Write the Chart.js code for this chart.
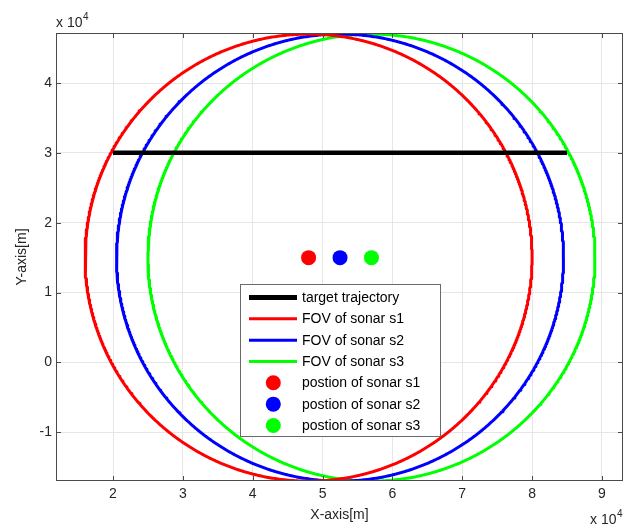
<!DOCTYPE html>
<html>
<head>
<meta charset="utf-8">
<script src="https://cdn.jsdelivr.net/npm/chart.js@4"></script>
<style>
html,body{margin:0;padding:0;background:#fff;}
#wrap{width:624px;height:528px;position:relative;}
</style>
</head>
<body>
<div id="wrap"><canvas id="c" width="624" height="528"></canvas></div>
<script>
// ---- data ----
const trajX = [20000, 85000];
const trajY = [30000, 30000];
const sonarNames = ['s1', 's2', 's3'];
const sonarX = [48000, 52500, 57000];
const sonarY = [15000, 15000, 15000];
const fovRadius = [32000, 32000, 32000];
const sonarColors = ['#ff0000', '#0000ff', '#00ff00'];
const xTicks = [20000, 30000, 40000, 50000, 60000, 70000, 80000, 90000];
const yTicks = [-10000, 0, 10000, 20000, 30000, 40000];
const xRange = [11840, 93010];
const yRange = [-16980, 47160];

function circlePoints(cx, cy, r) {
  const pts = [];
  const n = 1000;
  for (let i = 0; i <= n; i++) {
    const a = i / n * 2 * Math.PI;
    pts.push({x: cx + r * Math.cos(a), y: cy + r * Math.sin(a)});
  }
  return pts;
}

const datasets = [];
datasets.push({
  label: 'target trajectory',
  data: trajX.map((x, i) => ({x: x, y: trajY[i]})),
  showLine: true, borderColor: '#000', borderWidth: 4.5, pointRadius: 0, legendKind: 'line'
});
sonarNames.forEach((s, i) => {
  datasets.push({
    label: 'FOV of sonar ' + s,
    data: circlePoints(sonarX[i], sonarY[i], fovRadius[i]),
    showLine: true, borderColor: sonarColors[i], borderWidth: 3, pointRadius: 0,
    borderJoinStyle: 'round', legendKind: 'line'
  });
});
sonarNames.forEach((s, i) => {
  datasets.push({
    label: 'postion of sonar ' + s,
    data: [{x: sonarX[i], y: sonarY[i]}],
    showLine: false, backgroundColor: sonarColors[i], borderColor: sonarColors[i],
    borderWidth: 0, pointRadius: 7.5, legendKind: 'point'
  });
});

const FONT = '"Liberation Sans", Arial, sans-serif';
const TXT = '#262626';
const AX = '#4a4a4a';

const decor = {
  id: 'decor',
  afterDraw(chart) {
    const ctx = chart.ctx;
    const a = chart.chartArea;
    const xs = chart.scales.x, ys = chart.scales.y;
    ctx.save();
    // box
    ctx.strokeStyle = AX;
    ctx.lineWidth = 1;
    ctx.strokeRect(Math.round(a.left) + 0.5, Math.round(a.top) + 0.5,
                   Math.round(a.right - a.left) - 1, Math.round(a.bottom - a.top) - 1);
    // inner ticks
    const tl = 5;
    ctx.beginPath();
    xTicks.forEach(v => {
      const px = Math.round(xs.getPixelForValue(v)) + 0.5;
      ctx.moveTo(px, a.bottom); ctx.lineTo(px, a.bottom - tl);
      ctx.moveTo(px, a.top); ctx.lineTo(px, a.top + tl);
    });
    yTicks.forEach(v => {
      const py = Math.round(ys.getPixelForValue(v)) + 0.5;
      ctx.moveTo(a.left, py); ctx.lineTo(a.left + tl, py);
      ctx.moveTo(a.right, py); ctx.lineTo(a.right - tl, py);
    });
    ctx.stroke();

    // exponent labels
    ctx.fillStyle = TXT;
    ctx.textBaseline = 'alphabetic';
    ctx.textAlign = 'left';
    ctx.font = '14px ' + FONT;
    ctx.fillText('x 10', 56, 27);
    let w = ctx.measureText('x 10').width;
    ctx.font = '10px ' + FONT;
    ctx.fillText('4', 56 + w + 0.5, 20);
    ctx.font = '14px ' + FONT;
    ctx.fillText('x 10', 590, 524);
    w = ctx.measureText('x 10').width;
    ctx.font = '10px ' + FONT;
    ctx.fillText('4', 590 + w + 0.5, 517);

    // legend
    const L = 240, T = 284, R = 441, B = 437;
    ctx.fillStyle = '#fff';
    ctx.fillRect(L, T, R - L, B - T);
    ctx.strokeStyle = '#6a6a6a';
    ctx.lineWidth = 1;
    ctx.strokeRect(L + 0.5, T + 0.5, R - L - 1, B - T - 1);
    const y0 = 297.5, dy = 21.33;
    ctx.font = '14px ' + FONT;
    ctx.textBaseline = 'middle';
    chart.data.datasets.forEach((ds, i) => {
      const y = y0 + i * dy;
      if (ds.legendKind === 'line') {
        ctx.strokeStyle = ds.borderColor;
        ctx.lineWidth = i === 0 ? 5 : 3;
        ctx.beginPath();
        ctx.moveTo(249, y); ctx.lineTo(297, y);
        ctx.stroke();
      } else {
        ctx.fillStyle = ds.backgroundColor;
        ctx.beginPath();
        ctx.arc(273.3, y, 7.5, 0, 2 * Math.PI);
        ctx.fill();
      }
      ctx.fillStyle = '#000';
      ctx.fillText(ds.label, 302, y + 0.5);
    });
    ctx.restore();
  }
};

new Chart(document.getElementById('c'), {
  type: 'scatter',
  data: {datasets: datasets},
  plugins: [decor],
  options: {
    responsive: false,
    animation: false,
    layout: {autoPadding: false, padding: {top: 33, right: 1, left: 0, bottom: 0}},
    plugins: {legend: {display: false}, tooltip: {enabled: false}},
    scales: {
      x: {
        type: 'linear', min: xRange[0], max: xRange[1],
        afterBuildTicks: s => { s.ticks = xTicks.map(v => ({value: v})); },
        afterFit: s => { s.height = 47; s.paddingLeft = 0; s.paddingRight = 0; },
        ticks: {callback: v => String(v / 10000), color: TXT, font: {size: 14, family: FONT}, padding: 5, maxRotation: 0, autoSkip: false},
        grid: {color: '#e6e6e6', drawTicks: false, lineWidth: 1},
        border: {display: false},
        title: {display: true, text: 'X-axis[m]', color: TXT, font: {size: 14, family: FONT}, padding: {top: 0, bottom: 4}}
      },
      y: {
        type: 'linear', min: yRange[0], max: yRange[1],
        afterBuildTicks: s => { s.ticks = yTicks.map(v => ({value: v})); },
        afterFit: s => { s.width = 56; s.paddingTop = 0; s.paddingBottom = 0; },
        ticks: {callback: v => String(v / 10000), color: TXT, font: {size: 14, family: FONT}, padding: 4, autoSkip: false},
        grid: {color: '#e6e6e6', drawTicks: false, lineWidth: 1},
        border: {display: false},
        title: {display: true, text: 'Y-axis[m]', color: TXT, font: {size: 14, family: FONT}, padding: {top: 14, bottom: 0}}
      }
    }
  }
});
</script>
</body>
</html>
